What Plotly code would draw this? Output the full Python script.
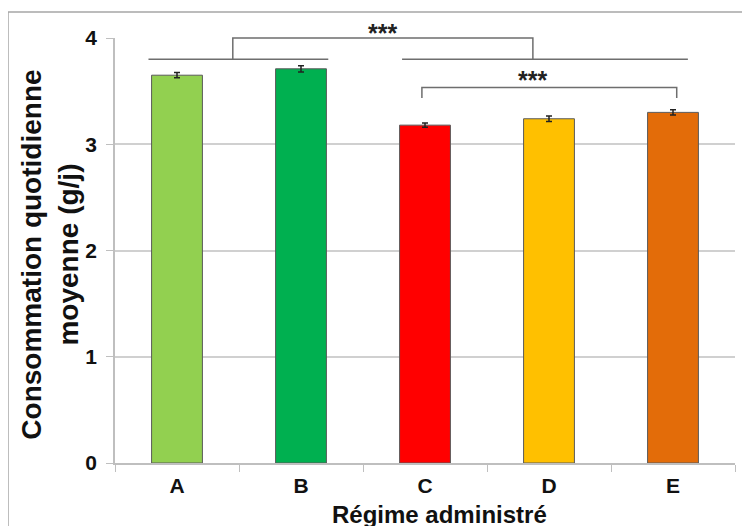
import plotly.graph_objects as go

categories = ["A", "B", "C", "D", "E"]
values = [3.65, 3.71, 3.18, 3.24, 3.30]
errors = [0.025, 0.03, 0.02, 0.025, 0.025]
colors = ["#92D050", "#00B050", "#FF0000", "#FFC000", "#E36C09"]
y_ticks = [0, 1, 2, 3, 4]

# significance brackets (category-index units / data units)
big_bracket = dict(left_seg=(-0.23, 1.22), right_seg=(1.815, 4.12), drops=(0.45, 2.87), top=4.0, seg_y=3.80, label_y=4.20)
small_bracket = dict(x0=1.975, x1=4.03, top=3.535, bottom=3.435, label_y=3.76)
sig_label = "***"

YMAX = 4.0
NCAT = len(categories)

def px(xc):
    return (xc + 0.5) / NCAT

def py(v):
    return v / YMAX

fig = go.Figure()
fig.add_trace(go.Bar(
    x=categories, y=values,
    marker=dict(color=colors, line=dict(color="#5a5a5a", width=1)),
    error_y=dict(type="data", array=errors, color="#222222", thickness=1.5, width=3),
    width=0.41,
))

line_style = dict(color="#6e6e6e", width=1.5)
shapes = []
b = big_bracket
for seg in (b["left_seg"], b["right_seg"]):
    shapes.append(dict(type="line", xref="paper", yref="paper", x0=px(seg[0]), x1=px(seg[1]),
                       y0=py(b["seg_y"]), y1=py(b["seg_y"]), line=line_style))
shapes.append(dict(type="path", xref="paper", yref="paper",
                   path=f"M {px(b['drops'][0])},{py(b['seg_y'])} L {px(b['drops'][0])},{py(b['top'])} "
                        f"L {px(b['drops'][1])},{py(b['top'])} L {px(b['drops'][1])},{py(b['seg_y'])}",
                   line=line_style))
s = small_bracket
shapes.append(dict(type="path", xref="paper", yref="paper",
                   path=f"M {px(s['x0'])},{py(s['bottom'])} L {px(s['x0'])},{py(s['top'])} "
                        f"L {px(s['x1'])},{py(s['top'])} L {px(s['x1'])},{py(s['bottom'])}",
                   line=line_style))
# outer frame
shapes.append(dict(type="rect", xref="paper", yref="paper", x0=-0.1726, x1=1.05, y0=-0.3, y1=1.061,
                   line=dict(color="#a6a6a6", width=1.5), layer="below"))

sig_font = dict(size=25, color="#222222", family="Liberation Sans", weight="bold")
annotations = [
    dict(x=px(sum(b["drops"]) / 2), y=py(b["label_y"]), xref="paper", yref="paper", text=sig_label,
         showarrow=False, font=sig_font),
    dict(x=px((s["x0"] + s["x1"]) / 2), y=py(s["label_y"]), xref="paper", yref="paper", text=sig_label,
         showarrow=False, font=sig_font),
    dict(x=-0.105, y=0.49, xref="paper", yref="paper", text="Consommation quotidienne<br>moyenne (g/j)",
         textangle=-90, showarrow=False, xanchor="center", yanchor="middle",
         font=dict(size=28, color="#111111", family="Liberation Sans", weight="bold")),
    dict(x=0.524, y=-0.122, xref="paper", yref="paper", text="Régime administré",
         showarrow=False, xanchor="center", yanchor="middle",
         font=dict(size=24, color="#111111", family="Liberation Sans", weight="bold")),
]

# page body has an 8px margin: offset margins so the plot area lands at x 115-735, y 38-463
fig.update_layout(
    width=750, height=526,
    margin=dict(l=107, r=23, t=30, b=71),
    paper_bgcolor="white", plot_bgcolor="white",
    showlegend=False,
    shapes=shapes,
    annotations=annotations,
    font=dict(family="Liberation Sans", color="#111111"),
    xaxis=dict(
        showline=True, linecolor="#bfbfbf", linewidth=1.5,
        ticks="outside", tickson="boundaries", ticklen=7, tickcolor="#bfbfbf",
        tickfont=dict(size=21, weight="bold", color="#111111"),
        ticklabelstandoff=3,
        showgrid=False, range=[-0.5, NCAT - 0.5],
    ),
    yaxis=dict(
        range=[0, YMAX], tickvals=y_ticks, ticktext=[str(t) for t in y_ticks],
        showline=True, linecolor="#bfbfbf", linewidth=1.5,
        ticks="outside", ticklen=7, tickcolor="#bfbfbf",
        ticklabelstandoff=5,
        showgrid=True, gridcolor="#d0d0d0", gridwidth=1.5, zeroline=False,
        tickfont=dict(size=21, weight="bold", color="#111111"),
    ),
)

fig.write_html("out.html")
